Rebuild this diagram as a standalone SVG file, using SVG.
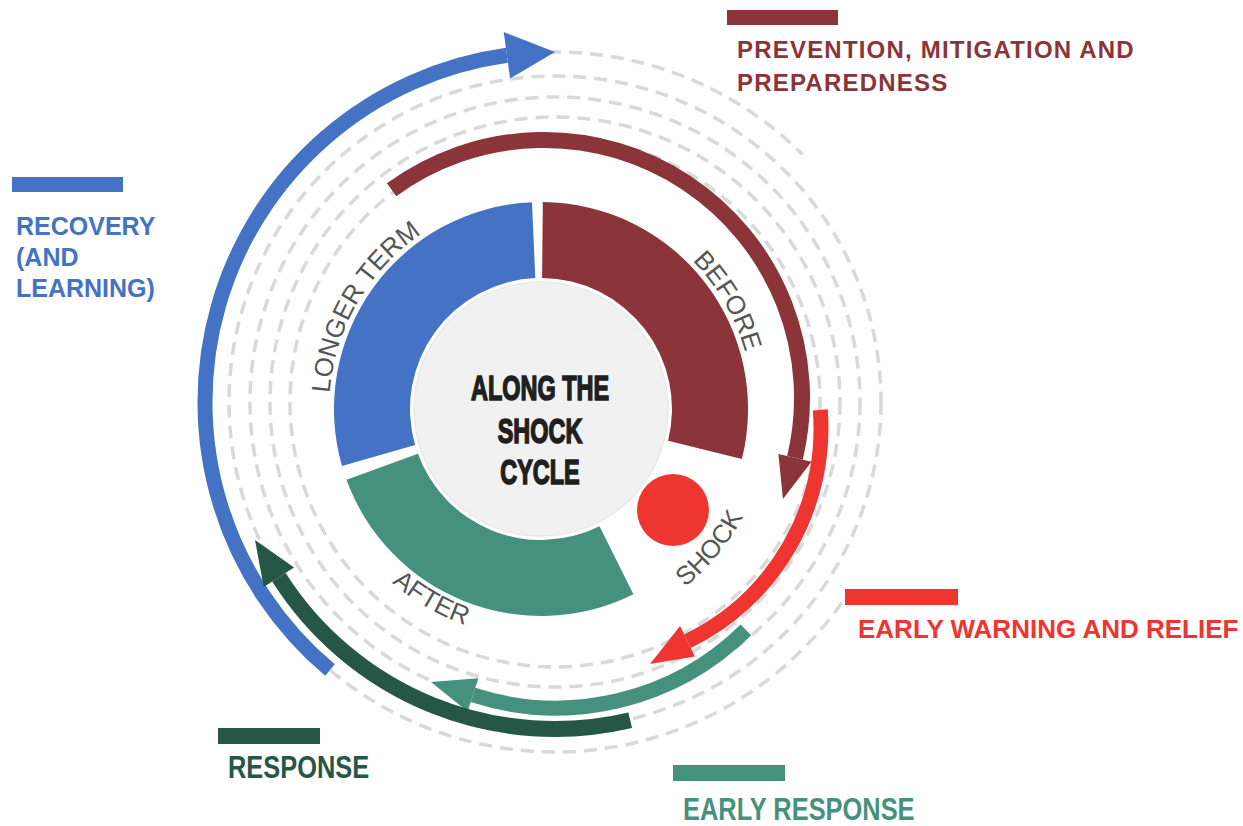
<svg xmlns="http://www.w3.org/2000/svg" width="1243" height="826" viewBox="0 0 1243 826">
<style>
.dash{fill:none;stroke:#d9d9d9;stroke-width:3.5;stroke-dasharray:13 8}
.seglbl{font-family:"Liberation Sans",Arial,sans-serif;font-size:26px;fill:#555}
.lbl{font-family:"Liberation Sans",Arial,sans-serif;font-weight:bold}
.arc{fill:none}
.center{font-family:"Liberation Sans",Arial,sans-serif;font-weight:bold;font-size:35px;fill:#1f1f1f;stroke:#1f1f1f;stroke-width:1.6;text-anchor:middle}
</style>
<defs>
<path id="pLonger" d="M357.4,515 A212,212 0 0 1 541,197"/>
<path id="pBefore" d="M541,197 A212,212 0 0 1 724.6,515"/>
<path id="pAfter" d="M312,409 A229,229 0 0 0 655.5,607.3"/>
<path id="pShock" d="M503.2,634.9 A229,229 0 0 0 755.5,328.8"/>
</defs>
<rect width="1243" height="826" fill="#fff"/>
<g id="guides">
<circle class="dash" cx="555" cy="402" r="265"/>
<circle class="dash" cx="555" cy="402" r="285"/>
<circle class="dash" cx="555" cy="402" r="305"/>
<circle class="dash" cx="555" cy="402" r="326"/>
<path class="dash" d="M841.7,602.8 A350,350 0 1 1 802.5,154.5"/>
</g>
<g id="seg-longer-term">
<path d="M342.0,466.0 A207,207 0 0 1 532.0,202.2 L535.3,278.1 A131,131 0 0 0 415.1,445.1 Z" fill="#4472c4"/>
<text class="seglbl"><textPath href="#pLonger" startOffset="50%" text-anchor="middle">LONGER TERM</textPath></text>
</g>
<g id="seg-before">
<path d="M542.8,202.0 A207,207 0 0 1 741.9,459.1 L668.1,440.7 A131,131 0 0 0 542.1,278.0 Z" fill="#8b3439"/>
<text class="seglbl"><textPath href="#pBefore" startOffset="50%" text-anchor="middle">BEFORE</textPath></text>
</g>
<g id="seg-after">
<path d="M633.4,594.2 A207,207 0 0 1 346.5,479.8 L417.9,453.8 A131,131 0 0 0 599.5,526.2 Z" fill="#45917d"/>
<text class="seglbl"><textPath href="#pAfter" startOffset="50%" text-anchor="middle">AFTER</textPath></text>
</g>
<g id="seg-shock">
<circle cx="673" cy="510" r="36" fill="#ee3530"/>
<text class="seglbl"><textPath href="#pShock" startOffset="50%" text-anchor="middle">SHOCK</textPath></text>
</g>
<g id="center">
<circle cx="541" cy="409" r="127" fill="#f1f1f1" stroke="#e9e9e9" stroke-width="1.5"/>
<text class="center" transform="translate(540,400) scale(0.67,1)">ALONG THE</text>
<text class="center" transform="translate(540,443) scale(0.67,1)">SHOCK</text>
<text class="center" transform="translate(540,484) scale(0.67,1)">CYCLE</text>
</g>
<g id="connectors">
<path class="arc" d="M330.0,670.1 A350,350 0 0 1 506.9,55.3" stroke="#4472c4" stroke-width="15"/>
<polygon points="510.1,78.6 503.7,32.0 555,52" fill="#4472c4"/>
<path class="arc" d="M391.6,189.8 A258,258 0 0 1 795.0,457.8" stroke="#8b3439" stroke-width="16"/>
<polygon points="778.4,453.9 811.5,461.7 783,499" fill="#8b3439"/>
<path class="arc" d="M820.3,409.8 A237,237 0 0 1 687.5,641.2" stroke="#ee3530" stroke-width="15"/>
<polygon points="680.1,625.9 694.9,656.5 650,664" fill="#ee3530"/>
<path class="arc" d="M745.9,629.9 A270,270 0 0 1 473.0,694.9" stroke="#45917d" stroke-width="15"/>
<polygon points="478.4,678.3 467.6,711.6 431,682" fill="#45917d"/>
<path class="arc" d="M630.2,720.2 A327,327 0 0 1 278.9,577.2" stroke="#255646" stroke-width="16"/>
<polygon points="294.1,567.6 263.7,586.9 255,540" fill="#255646"/>
</g>
<g id="legend-prevention">
<rect x="727" y="10" width="111" height="15" fill="#8b3439"/>
<text class="lbl" font-size="24" fill="#8b3439" letter-spacing="1.2"><tspan x="737" y="58">PREVENTION, MITIGATION AND</tspan><tspan x="737" y="91">PREPAREDNESS</tspan></text>
</g>
<g id="legend-recovery">
<rect x="12" y="177" width="111" height="15" fill="#4472c4"/>
<text class="lbl" font-size="25" fill="#4472c4"><tspan x="16" y="235">RECOVERY</tspan><tspan x="16" y="266">(AND</tspan><tspan x="16" y="297">LEARNING)</tspan></text>
</g>
<g id="legend-early-warning">
<rect x="845" y="589" width="113" height="16" fill="#ee3530"/>
<text class="lbl" font-size="26" fill="#ee3530" x="858" y="638">EARLY WARNING AND RELIEF</text>
</g>
<g id="legend-response">
<rect x="218" y="728" width="102" height="16" fill="#255646"/>
<text class="lbl" font-size="31" fill="#255646" transform="translate(228,778) scale(0.82,1)">RESPONSE</text>
</g>
<g id="legend-early-response">
<rect x="673" y="765" width="112" height="16" fill="#45917d"/>
<text class="lbl" font-size="31" fill="#45917d" transform="translate(683,820) scale(0.82,1)">EARLY RESPONSE</text>
</g>
</svg>
